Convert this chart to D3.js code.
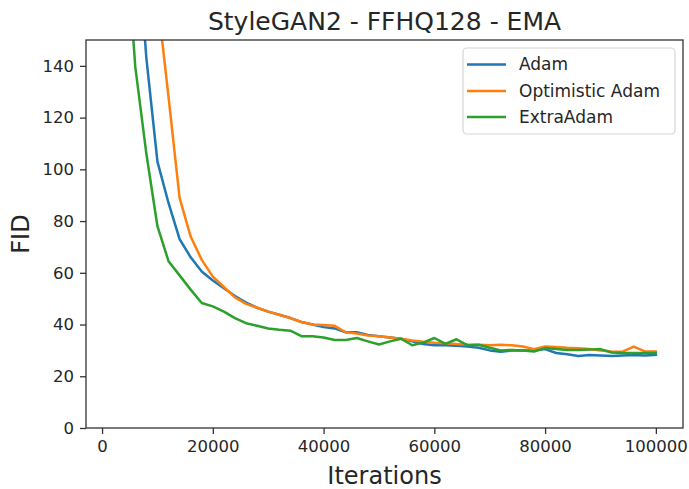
<!DOCTYPE html>
<html>
<head>
<meta charset="utf-8">
<script src="https://cdn.jsdelivr.net/npm/d3@7"></script>
<style>
  html, body { margin: 0; padding: 0; background: #fff; }
  svg { display: block; font-family: "DejaVu Sans", sans-serif; }
</style>
</head>
<body>
<svg id="chart" width="689" height="489"></svg>
<script>
const iterations = [2000,4000,6000,8000,10000,12000,14000,16000,18000,20000,
  22000,24000,26000,28000,30000,32000,34000,36000,38000,40000,
  42000,44000,46000,48000,50000,52000,54000,56000,58000,60000,
  62000,64000,66000,68000,70000,72000,74000,76000,78000,80000,
  82000,84000,86000,88000,90000,92000,94000,96000,98000,100000];

const adam = [320,250,200,143,103,87,73,66,60.5,57,
  54,51,48.5,46.5,45,43.8,42.5,41,40,39,
  38.5,37,37,36,35.5,35,34.5,33.5,32.5,32,
  32,31.8,31.5,31,30,29.5,30,30,30,30.5,
  29,28.5,27.8,28.2,28,27.8,28,28.2,28,28.3];

const optimisticAdam = [380,330,280,225,166,128,89,74,65,58.5,
  54.5,50.5,48,46.5,45,43.8,42.5,41,40,39.8,
  39.5,37,36.5,35.8,35.5,35,34.5,33.8,33.3,33,
  32.8,32.5,32.3,32.2,32,32.2,32,31.5,30.5,31.5,
  31.3,31,30.8,30.5,30,29.6,29.5,31.5,29.6,29.6];

const extraAdam = [280,200,139.6,106,78,64.5,59,53.5,48.3,47,
  45,42.5,40.5,39.5,38.5,38,37.6,35.5,35.5,35,
  34,34,34.8,33.5,32.3,33.5,34.5,32,33,34.8,
  32.5,34.3,32,32.2,31,30,30.2,30,29.6,30.9,
  30.5,30.2,30.2,30.3,30.5,29.2,29,29,29,29];

const seriesNames = ["Adam", "Optimistic Adam", "ExtraAdam"];
const seriesColors = ["#1f77b4", "#ff7f0e", "#2ca02c"];
const xTicks = [0, 20000, 40000, 60000, 80000, 100000];
const yTicks = [0, 20, 40, 60, 80, 100, 120, 140];
const title = "StyleGAN2 - FFHQ128 - EMA";
const xLabel = "Iterations";
const yLabel = "FID";

const svg = d3.select("#chart");
const L = 86, R = 683, T = 40, B = 428;
const x = d3.scaleLinear().domain([-2900, 104900]).range([L, R]);
const y = d3.scaleLinear().domain([0, 150]).range([B, T]);
const textColor = "#262626";

svg.append("defs").append("clipPath").attr("id", "clip")
  .append("rect").attr("x", L).attr("y", T).attr("width", R - L).attr("height", B - T);

// lines
const allSeries = [adam, optimisticAdam, extraAdam];
const line = d3.line().x((d, i) => x(iterations[i])).y(d => y(d));
const g = svg.append("g").attr("clip-path", "url(#clip)");
allSeries.forEach((s, k) => {
  g.append("path").datum(s)
    .attr("d", line)
    .attr("fill", "none")
    .attr("stroke", seriesColors[k])
    .attr("stroke-width", 2.5)
    .attr("stroke-linejoin", "round")
    .attr("stroke-linecap", "square");
});

// axes
const xAxis = d3.axisBottom(x).tickValues(xTicks).tickSize(6).tickPadding(6).tickFormat(d3.format("d"));
const yAxis = d3.axisLeft(y).tickValues(yTicks).tickSize(6).tickPadding(6).tickFormat(d3.format("d"));
const gx = svg.append("g").attr("transform", `translate(0,${B})`).call(xAxis);
const gy = svg.append("g").attr("transform", `translate(${L},0)`).call(yAxis);
[gx, gy].forEach(a => {
  a.select(".domain").remove();
  a.selectAll(".tick line").attr("stroke", "#333").attr("stroke-width", 1.3);
  a.selectAll(".tick text").attr("fill", textColor).style("font-size", "16.5px")
    .style("font-family", "'DejaVu Sans', sans-serif");
});

// frame
svg.append("rect").attr("x", L).attr("y", T).attr("width", R - L).attr("height", B - T)
  .attr("fill", "none").attr("stroke", "#333").attr("stroke-width", 1.3);

// title and labels
svg.append("text").attr("x", (L + R) / 2).attr("y", 30).attr("text-anchor", "middle")
  .attr("fill", textColor).style("font-size", "25px").text(title);
svg.append("text").attr("x", (L + R) / 2).attr("y", 484).attr("text-anchor", "middle")
  .attr("fill", textColor).style("font-size", "24px").text(xLabel);
svg.append("text").attr("transform", `translate(29,${(T + B) / 2}) rotate(-90)`)
  .attr("text-anchor", "middle").attr("fill", textColor).style("font-size", "24px").text(yLabel);

// legend
const lg = svg.append("g");
lg.append("rect").attr("x", 463).attr("y", 48).attr("width", 212).attr("height", 86)
  .attr("rx", 4).attr("fill", "#fff").attr("fill-opacity", 0.8)
  .attr("stroke", "#d6d6d6").attr("stroke-width", 1.2);
const ly = [64.5, 91, 117];
seriesNames.forEach((n, k) => {
  lg.append("line").attr("x1", 467).attr("x2", 506).attr("y1", ly[k]).attr("y2", ly[k])
    .attr("stroke", seriesColors[k]).attr("stroke-width", 2.5);
  lg.append("text").attr("x", 519).attr("y", ly[k]).attr("dy", "0.35em")
    .attr("fill", textColor).style("font-size", "17px").text(n);
});
</script>
</body>
</html>
